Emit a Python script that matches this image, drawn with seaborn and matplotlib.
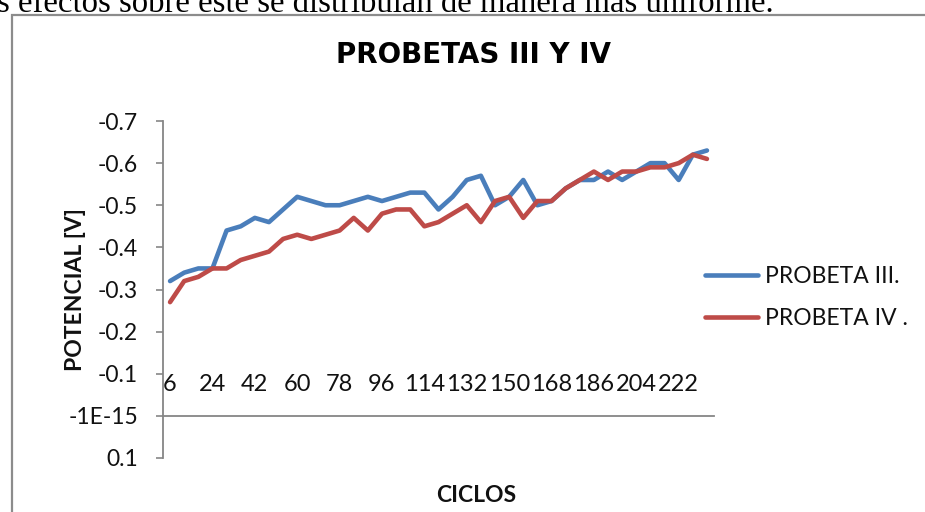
import numpy as np
import pandas as pd
import matplotlib
matplotlib.use('Agg')
import matplotlib.pyplot as plt
import matplotlib.patches as mpatches
import seaborn as sns

# data
ciclos = [6, 12, 18, 24, 30, 36, 42, 48, 54, 60, 66, 72, 78, 84, 90, 96, 102,
          108, 114, 120, 126, 132, 138, 144, 150, 156, 162, 168, 174, 180,
          186, 192, 198, 204, 210, 216, 222, 228, 234]
probeta_iii = [-0.32, -0.34, -0.35, -0.35, -0.44, -0.45, -0.47, -0.46, -0.49,
               -0.52, -0.51, -0.50, -0.50, -0.51, -0.52, -0.51, -0.52, -0.53,
               -0.53, -0.49, -0.52, -0.56, -0.57, -0.50, -0.52, -0.56, -0.50,
               -0.51, -0.54, -0.56, -0.56, -0.58, -0.56, -0.58, -0.60, -0.60,
               -0.56, -0.62, -0.63]
probeta_iv = [-0.27, -0.32, -0.33, -0.35, -0.35, -0.37, -0.38, -0.39, -0.42,
              -0.43, -0.42, -0.43, -0.44, -0.47, -0.44, -0.48, -0.49, -0.49,
              -0.45, -0.46, -0.48, -0.50, -0.46, -0.51, -0.52, -0.47, -0.51,
              -0.51, -0.54, -0.56, -0.58, -0.56, -0.58, -0.58, -0.59, -0.59,
              -0.60, -0.62, -0.61]
series_names = ['PROBETA III.', 'PROBETA IV .']
x_tick_values = [6, 24, 42, 60, 78, 96, 114, 132, 150, 168, 186, 204, 222]
y_tick_values = [-0.7, -0.6, -0.5, -0.4, -0.3, -0.2, -0.1, 0.0, 0.1]
y_tick_labels = ['-0.7', '-0.6', '-0.5', '-0.4', '-0.3', '-0.2', '-0.1', '-1E-15', '0.1']

df = pd.DataFrame({
    'ciclo': ciclos * 2,
    'potencial': probeta_iii + probeta_iv,
    'serie': [series_names[0]] * len(ciclos) + [series_names[1]] * len(ciclos),
})

sns.set_theme(style='white')
plt.rcParams['font.family'] = ['Lato', 'DejaVu Sans']
plt.rcParams['text.color'] = '#111111'

W, H = 925, 512
fig = plt.figure(figsize=(W / 100, H / 100), dpi=100)
ax = fig.add_axes([163 / W, 1 - 458 / H, 551 / W, 337 / H])

sns.lineplot(data=df, x='ciclo', y='potencial', hue='serie',
             palette=['#4A7EBB', '#BE4B48'], linewidth=3.3, ax=ax,
             solid_capstyle='round')

ax.set_xlim(3, 237)
ax.set_ylim(0.1, -0.7)

axis_grey = '#868686'
# category axis crosses at 0, labels sit on the upper side (reversed value axis)
ax.spines['top'].set_position(('data', 0))
ax.spines['top'].set_color(axis_grey)
ax.spines['top'].set_linewidth(1.3)
ax.spines['bottom'].set_visible(False)
ax.spines['right'].set_visible(False)
ax.spines['left'].set_color(axis_grey)
ax.spines['left'].set_linewidth(1.3)
ax.xaxis.tick_top()
ax.set_xticks(x_tick_values)
ax.set_xticklabels([str(v) for v in x_tick_values])
ax.tick_params(axis='x', length=0, pad=15, labelsize=17, labelcolor='#111111')
ax.set_yticks(y_tick_values)
ax.set_yticklabels(y_tick_labels)
ax.tick_params(axis='y', left=True, length=5, width=1.2, color=axis_grey,
               direction='out', pad=13, labelsize=16.5, labelcolor='#111111')

ax.set_ylabel('POTENCIAL [V]', fontsize=16.5, fontweight='bold', va='center',
              color='#111111')
ax.yaxis.set_label_coords(-(163 - 75) / 551, 0.5)
ax.set_xlabel('CICLOS', fontsize=16.5, fontweight='bold', va='center',
              color='#111111')
ax.xaxis.set_label_coords((476 - 163) / 551, -(495 - 458) / 337)

fig.text(474 / W, 1 - 55 / H, 'PROBETAS III Y IV', ha='center', va='center',
         fontsize=20, fontweight='heavy', family='DejaVu Sans', color='black')

handles, labels = ax.get_legend_handles_labels()
ax.get_legend().remove()
fig.legend(handles, labels, loc='center left', bbox_to_anchor=(705 / W, 1 - 297.5 / H),
           frameon=False, fontsize=16.5, handlelength=2.3, handletextpad=0.3,
           labelspacing=0.95, borderpad=0, borderaxespad=0)

# outer chart frame and the document text cut off above it
fig.patches.append(mpatches.Rectangle((12 / W, -0.1), 1.1, 1 - 15 / H + 0.1,
                                      transform=fig.transFigure, fill=False,
                                      edgecolor='#8c8c8c', linewidth=1.6))
fig.text(-3 / W, 1 - 12 / H,
         's efectos sobre este se distribuían de manera más uniforme.',
         ha='left', va='baseline', fontsize=23.6, family='Liberation Serif',
         color='black')

fig.savefig('out.png', dpi=100)
